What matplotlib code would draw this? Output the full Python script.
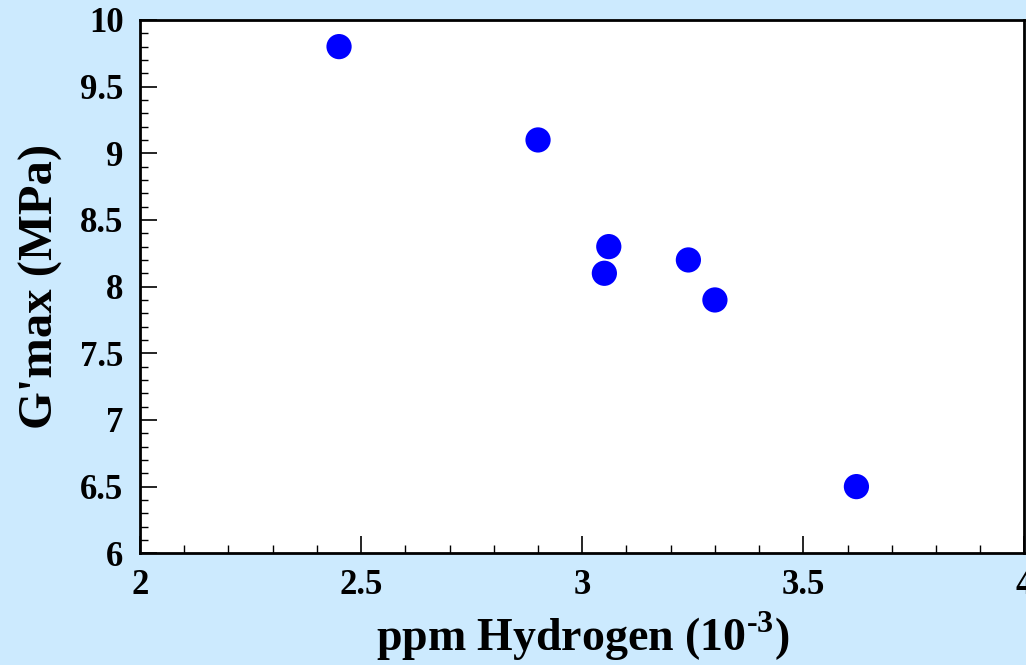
import numpy as np
import matplotlib
matplotlib.use('Agg')
import matplotlib.pyplot as plt
from matplotlib.ticker import MultipleLocator

# ppm hydrogen (10^-3) vs G'max
hydrogen = [2.45, 2.90, 3.06, 3.05, 3.24, 3.30, 3.62]
gmax = [9.8, 9.1, 8.3, 8.1, 8.2, 7.9, 6.5]

plt.rcParams['font.family'] = ['Liberation Serif', 'DejaVu Serif']
plt.rcParams['font.weight'] = 'bold'
plt.rcParams['mathtext.fontset'] = 'custom'
plt.rcParams['mathtext.rm'] = 'Liberation Serif:bold'
plt.rcParams['mathtext.bf'] = 'Liberation Serif:bold'

bg = '#cceafe'
fig = plt.figure(figsize=(10.26, 6.65), dpi=100, facecolor=bg)
ax = fig.add_axes([0.1365, 0.168, 0.862, 0.802])
ax.set_facecolor('white')

ax.scatter(hydrogen, gmax, s=330, color='#0000ff', edgecolors='none', zorder=3)

ax.set_xlim(2, 4)
ax.set_ylim(6, 10)
ax.xaxis.set_major_locator(MultipleLocator(0.5))
ax.xaxis.set_minor_locator(MultipleLocator(0.1))
ax.yaxis.set_major_locator(MultipleLocator(0.5))
ax.yaxis.set_minor_locator(MultipleLocator(0.1))
ax.xaxis.set_major_formatter(plt.FuncFormatter(lambda v, p: '%g' % v))
ax.yaxis.set_major_formatter(plt.FuncFormatter(lambda v, p: '%g' % v))

ax.tick_params(which='both', direction='in', top=False, right=False, color='black')
ax.tick_params(which='major', length=12, width=1.2, labelsize=25)
ax.tick_params(axis='y', which='major', pad=12)
ax.tick_params(axis='x', which='major', pad=11)
ax.tick_params(which='minor', length=6, width=1.0)
for sp in ax.spines.values():
    sp.set_linewidth(2)

ax.set_xlabel(r'ppm Hydrogen (10$^{\text{-3}}$)', fontsize=33, fontweight='bold', labelpad=6)
ax.set_ylabel("G'max (MPa)", fontsize=35, fontweight='bold', labelpad=12)

fig.savefig('out.png', dpi=100, facecolor=bg)
